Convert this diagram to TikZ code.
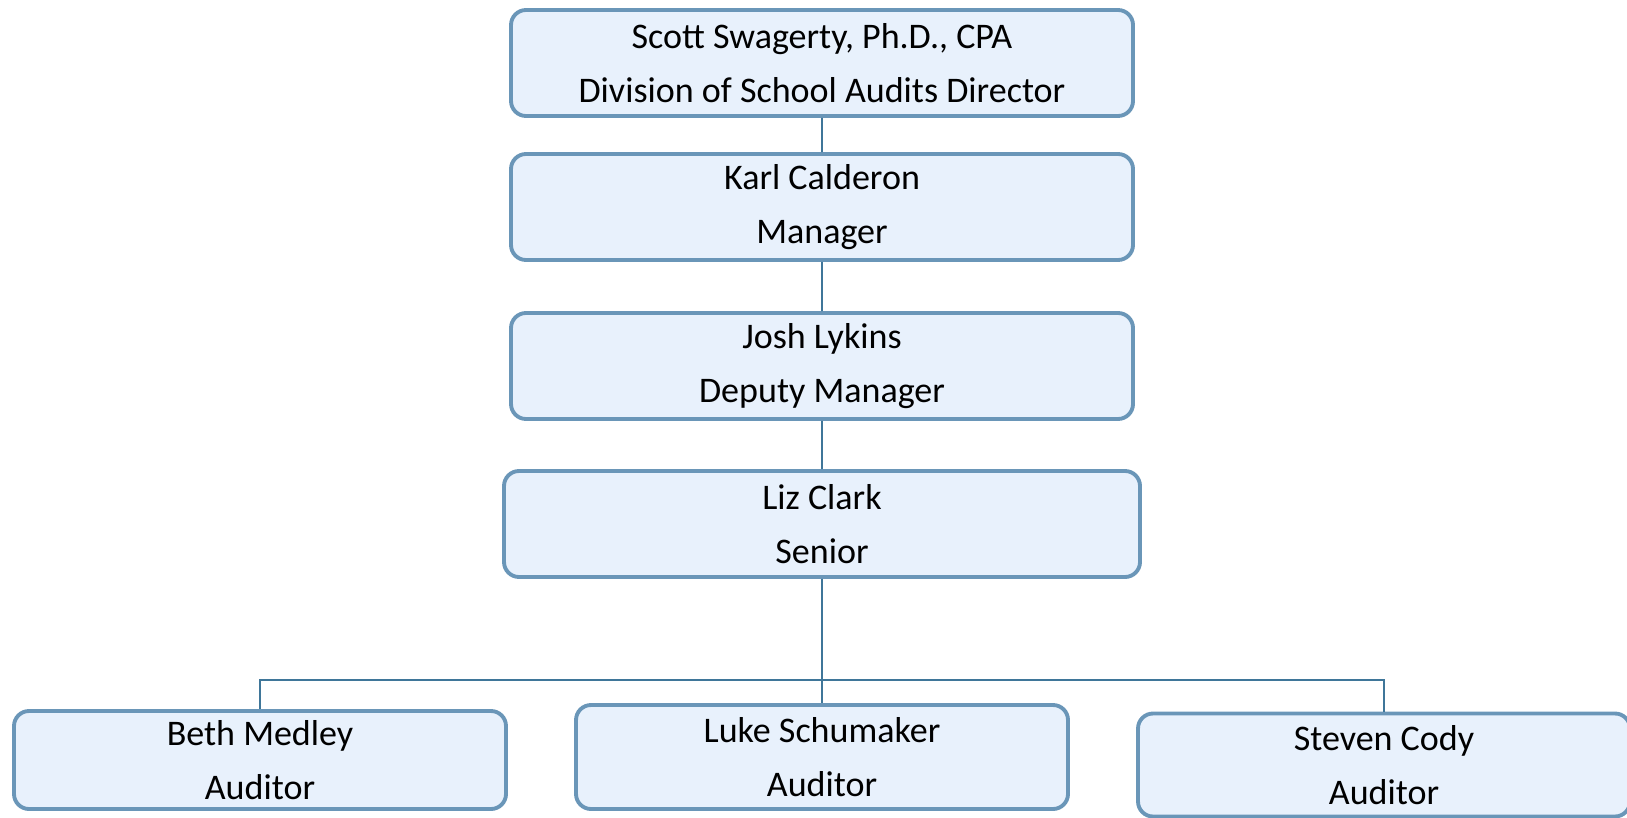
\documentclass[tikz,border=0pt]{standalone}
\usepackage{fontspec}
\setmainfont{Carlito}
\usepackage{xcolor}
\usetikzlibrary{positioning}

\definecolor{boxfill}{HTML}{E8F1FC}
\definecolor{boxline}{HTML}{6A96B8}
\definecolor{connline}{HTML}{3F7699}

\begin{document}
\begin{tikzpicture}[
  person/.style={rectangle, draw=boxline, line width=2.2pt, fill=boxfill,
    rounded corners=0.3cm, align=center, minimum width=12.44cm,
    minimum height=2.12cm, font=\fontsize{20.5}{31}\selectfont},
  auditor/.style={person, minimum width=9.84cm, minimum height=1.96cm},
  edge from parent/.style={draw=connline, line width=1.1pt},
  level 1/.style={level distance=2.88cm},
  level 2/.style={level distance=3.18cm},
  level 3/.style={level distance=3.16cm},
  level 4/.style={level distance=4.72cm, sibling distance=11.24cm,
    edge from parent path={(\tikzparentnode.south) -- ++(0,-2.02)
      -| (\tikzchildnode.north)}}
]
\useasboundingbox (0,0) rectangle (32.54,-16.34);
\node [person] (director) at (16.44,-1.26) {Scott Swagerty, Ph.D., CPA\\Division of School Audits Director}
  child {node [person] (manager) {Karl Calderon\\Manager}
    child {node [person] (deputy) {Josh Lykins\\Deputy Manager}
      child {node [person, minimum width=12.72cm] (senior) {Liz Clark\\Senior}
        child {node [auditor] (beth) {Beth Medley\\Auditor}}
        child {node [auditor, minimum height=2.08cm, yshift=0.06cm] (luke) {Luke Schumaker\\Auditor}}
        child {node [auditor, minimum height=2.06cm, yshift=-0.1cm] (steven) {Steven Cody\\Auditor}}
      }
    }
  };
\end{tikzpicture}
\end{document}
